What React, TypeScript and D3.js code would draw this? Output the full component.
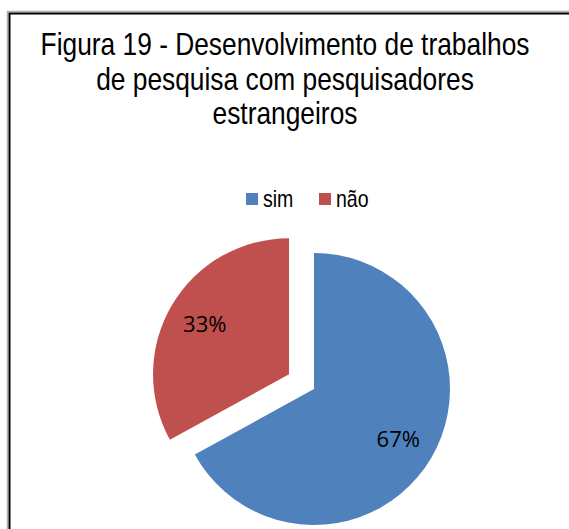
import React from "react";
import * as d3 from "d3";

const categories = ["sim", "não"];
const values = [67, 33];
const colors = ["#4F81BD", "#C0504D"];
const explode = [0, 29];
const titleLines = [
  "Figura 19 - Desenvolvimento de trabalhos",
  "de pesquisa com pesquisadores",
  "estrangeiros",
];

const W = 569;
const H = 529;
const cx = 314;
const cy = 389;
const R = 136;
const NARROW = 0.85;
const FONT = "'Liberation Sans', Arial, sans-serif";

export default function App() {
  const pie = d3.pie<number>().sort(null).value((d) => d)(values);
  const arc = d3.arc<d3.PieArcDatum<number>>().innerRadius(0).outerRadius(R);
  const labelArc = d3
    .arc<d3.PieArcDatum<number>>()
    .innerRadius(R * 0.72)
    .outerRadius(R * 0.72);
  const total = d3.sum(values);

  const legendX = [246, 319];

  return (
    <svg
      width={W}
      height={H}
      style={{ position: "absolute", left: 0, top: 0, background: "#fff" }}
    >
      <rect x={0} y={0} width={W} height={H} fill="#fff" />
      {/* frame */}
      <path d={`M7.5 ${H} V11.5 H${W}`} fill="none" stroke="#b0b0b0" strokeWidth={1.5} />
      <path d={`M9.5 ${H} V13.5 H${W}`} fill="none" stroke="#000" strokeWidth={2} />

      {/* title */}
      {titleLines.map((t, i) => (
        <text
          key={i}
          transform={`translate(285,${55 + i * 34.5}) scale(${NARROW},1)`}
          textAnchor="middle"
          fontFamily={FONT}
          fontSize={31}
          fill="#000"
        >
          {t}
        </text>
      ))}

      {/* legend */}
      {categories.map((c, i) => (
        <g key={c}>
          <rect x={legendX[i]} y={193} width={12} height={12} fill={colors[i]} />
          <text
            transform={`translate(${legendX[i] + 17},207) scale(${NARROW},1)`}
            fontFamily={FONT}
            fontSize={23}
            fill="#000"
          >
            {c}
          </text>
        </g>
      ))}

      {/* pie */}
      {pie.map((d, i) => {
        const mid = (d.startAngle + d.endAngle) / 2;
        const dx = Math.sin(mid) * explode[i];
        const dy = -Math.cos(mid) * explode[i];
        const [lx, ly] = labelArc.centroid(d);
        return (
          <g key={i} transform={`translate(${cx + dx},${cy + dy})`}>
            <path d={arc(d) || ""} fill={colors[i]} />
            <text
              x={lx}
              y={ly}
              dy="0.36em"
              textAnchor="middle"
              fontFamily="'Open Sans', sans-serif"
              fontSize={22}
              fill="#000"
            >
              {`${Math.round((d.data / total) * 100)}%`}
            </text>
          </g>
        );
      })}
    </svg>
  );
}
